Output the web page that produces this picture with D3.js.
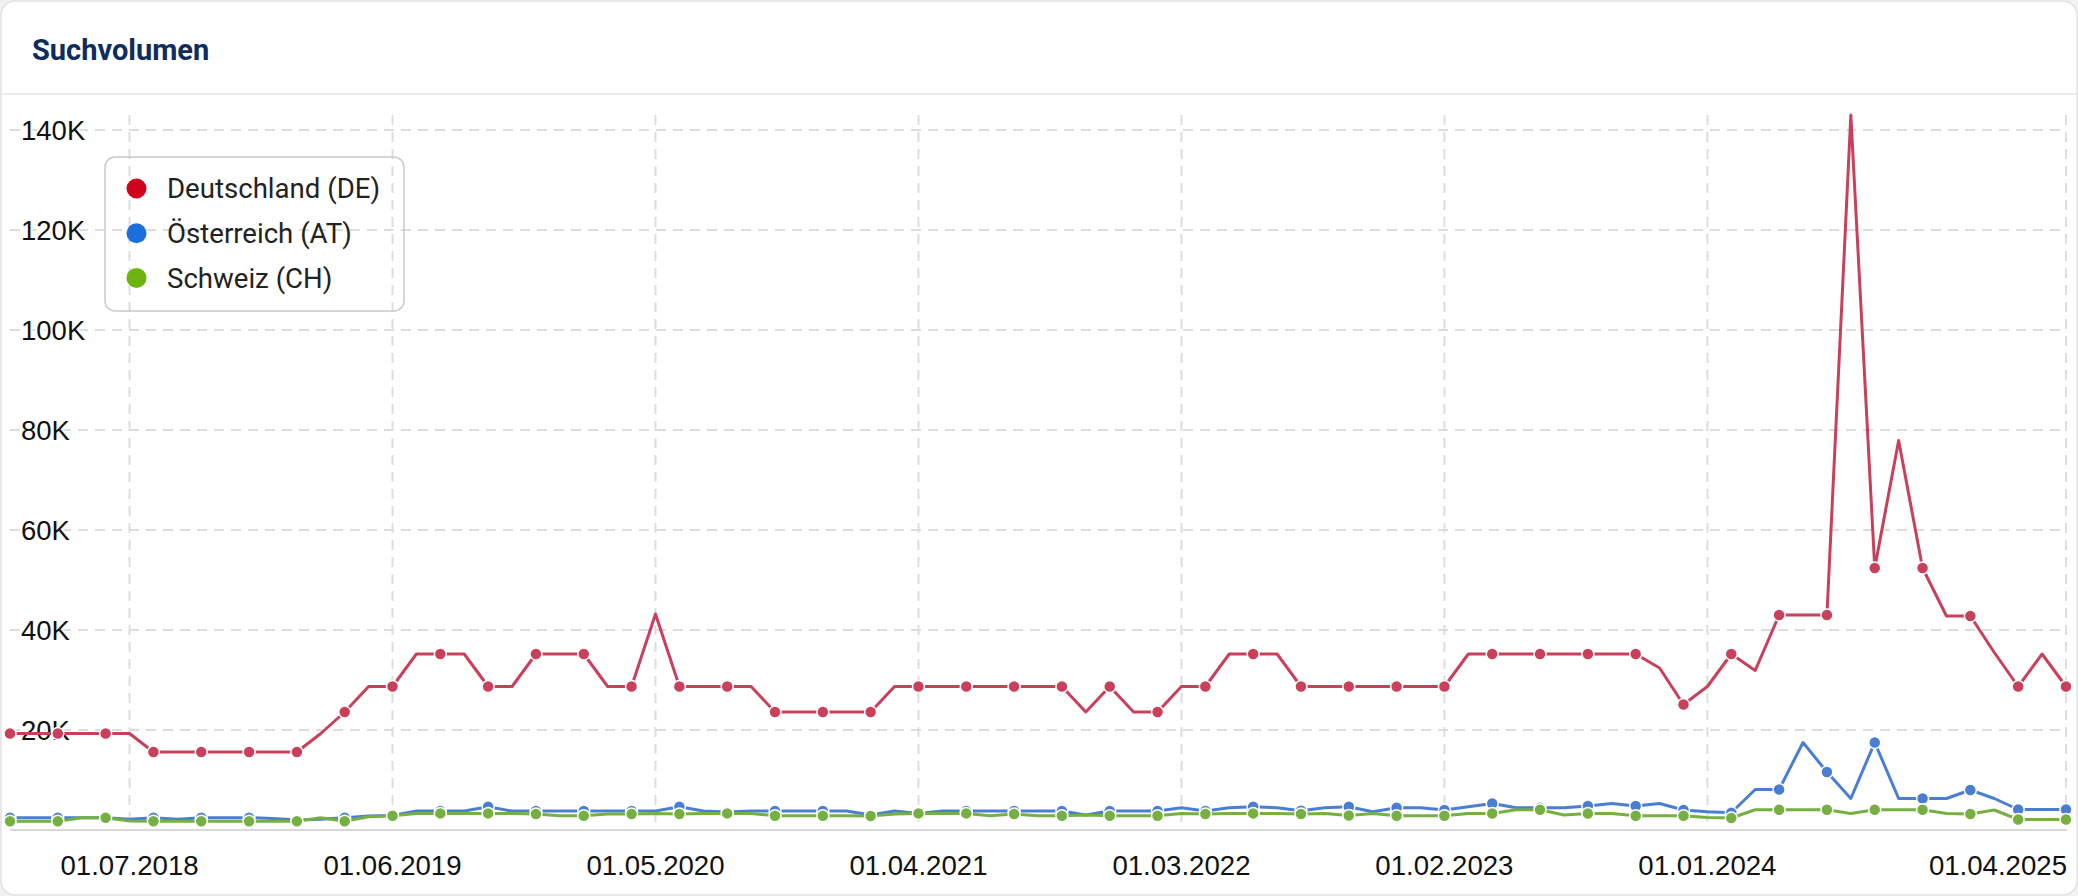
<!DOCTYPE html>
<html><head><meta charset="utf-8">
<script src="https://cdn.jsdelivr.net/npm/d3@7"></script>
<style>
html,body{margin:0;padding:0;background:#f2f2f2;}
svg{display:block;}
</style></head><body>
<svg id="chart" width="2078" height="896"></svg>
<script>
const title = "Suchvolumen";
const seriesNames = ["Deutschland (DE)", "Österreich (AT)", "Schweiz (CH)"];
const lineColors = ["#c8405a", "#4a7ed5", "#76b042"];
const legendColors = ["#d0021b", "#1a6fdc", "#6cb511"];

// monthly categories 01.02.2018 .. 01.04.2025
const months = d3.timeMonth.range(new Date(2018, 1, 1), new Date(2025, 4, 1)).map(d3.timeFormat("%d.%m.%Y"));

const xTickLabels = ["01.07.2018", "01.06.2019", "01.05.2020", "01.04.2021", "01.03.2022", "01.02.2023", "01.01.2024", "01.04.2025"];
const yTicks = [20000, 40000, 60000, 80000, 100000, 120000, 140000];

const valuesDE = [
  19300,19300,19300,19300,19300,19300,15600,15600,15600,15600,15600,15600,15600,19300,23600,28700,28700,35200,35200,35200,
  28700,28700,35200,35200,35200,28700,28700,43200,28700,28700,28700,28700,23600,23600,23600,23600,23600,28700,28700,28700,
  28700,28700,28700,28700,28700,23600,28700,23600,23600,28700,28700,35200,35200,35200,28700,28700,28700,28700,28700,28700,
  28700,35200,35200,35200,35200,35200,35200,35200,35200,32400,25100,28700,35200,31900,43000,43000,43000,143000,52400,77900,
  52400,42800,42800,35500,28700,35200,28700
];
const valuesAT = [
  2460,2460,2460,2460,2460,2130,2460,2130,2460,2460,2460,2300,2000,2130,2460,2800,2920,3790,3790,3790,
  4650,3790,3790,3790,3790,3790,3790,3790,4650,3790,3600,3790,3790,3790,3790,3790,3000,3790,3300,3790,
  3790,3790,3790,3790,3790,3000,3790,3790,3790,4450,3790,4450,4650,4450,3850,4450,4650,3650,4450,4450,
  4000,4650,5300,4450,4450,4450,4800,5300,4800,5300,4000,3650,3450,8100,8100,17500,11600,6300,17500,6300,
  6300,6300,8000,6300,4100,4100,4100
];
const valuesCH = [
  1750,1750,1750,2460,2460,1800,1750,1750,1750,1750,1750,1750,1750,2460,1750,2660,2860,3320,3320,3320,
  3320,3320,3200,2860,2860,3200,3200,3320,3200,3320,3320,3320,2860,2860,2860,2860,2800,3200,3320,3320,
  3320,2860,3200,2860,2860,3000,2860,2860,2860,3320,3200,3320,3320,3320,3200,3320,2900,3300,2850,2850,
  2850,3300,3300,4050,4050,3000,3300,3300,2850,2850,2850,2500,2400,4050,4050,4050,4050,3300,4050,4050,
  4050,3300,3200,4000,2100,2100,2100
];
const allSeries = [valuesDE, valuesAT, valuesCH];

const W = 2078, H = 896;
const plot = {left: 10, right: 2066, top: 115, bottom: 830};
const svg = d3.select("#chart");
const axisFont = "'Liberation Sans', Arial, Helvetica, sans-serif";

// card
svg.append("rect").attr("x", 1).attr("y", 1).attr("width", W - 2).attr("height", H - 2)
  .attr("rx", 14).attr("fill", "#fff").attr("stroke", "#e2e2e2").attr("stroke-width", 1.5);
svg.append("line").attr("x1", 1).attr("x2", W - 1).attr("y1", 94).attr("y2", 94)
  .attr("stroke", "#ebebeb").attr("stroke-width", 2);
svg.append("text").attr("x", 32).attr("y", 60).text(title)
  .attr("font-family", "Roboto, sans-serif").attr("font-weight", 700).attr("font-size", 29)
  .attr("fill", "#0e2c5c");

const x = d3.scalePoint().domain(months).range([plot.left, plot.right]);
const y = d3.scaleLinear().domain([0, d3.max(valuesDE)]).range([plot.bottom, plot.top]);

// grid
const grid = svg.append("g");
grid.selectAll("line.h").data(yTicks).join("line")
  .attr("x1", plot.left).attr("x2", plot.right)
  .attr("y1", d => y(d)).attr("y2", d => y(d))
  .attr("stroke", "#dddddd").attr("stroke-width", 2).attr("stroke-dasharray", "10,7");
grid.selectAll("line.v").data(xTickLabels).join("line")
  .attr("x1", d => x(d)).attr("x2", d => x(d))
  .attr("y1", plot.top).attr("y2", plot.bottom)
  .attr("stroke", "#dddddd").attr("stroke-width", 2).attr("stroke-dasharray", "10,7");
svg.append("line").attr("x1", plot.left).attr("x2", plot.right + 1)
  .attr("y1", plot.bottom).attr("y2", plot.bottom)
  .attr("stroke", "#d8d8d8").attr("stroke-width", 2);

// y labels (left aligned, drawn over the grid)
svg.append("g").selectAll("text").data(yTicks).join("text")
  .attr("x", 21).attr("y", d => y(d)).attr("dy", "0.36em")
  .attr("text-anchor", "start")
  .attr("font-family", axisFont).attr("font-size", 27.5)
  .attr("fill", "#111")
  .attr("stroke", "#fff").attr("stroke-width", 4).attr("paint-order", "stroke")
  .text(d => (d / 1000) + "K");

// x labels
svg.append("g").selectAll("text").data(xTickLabels).join("text")
  .attr("x", (d, i) => i === xTickLabels.length - 1 ? x(d) + 1 : x(d))
  .attr("y", 874.5)
  .attr("text-anchor", (d, i) => i === xTickLabels.length - 1 ? "end" : "middle")
  .attr("font-family", axisFont).attr("font-size", 27.6)
  .attr("fill", "#111")
  .text(d => d);

// series
const line = d3.line().x((d, i) => x(months[i])).y(d => y(d));
allSeries.forEach((vals, s) => {
  const g = svg.append("g");
  g.append("path").attr("d", line(vals)).attr("fill", "none")
    .attr("stroke", lineColors[s]).attr("stroke-width", 3).attr("stroke-linejoin", "round");
  g.selectAll("circle").data(vals.map((v, i) => ({v, i})).filter(d => d.i % 2 === 0)).join("circle")
    .attr("cx", d => x(months[d.i])).attr("cy", d => y(d.v)).attr("r", 6)
    .attr("fill", lineColors[s]).attr("stroke", "#fff").attr("stroke-width", 1.5);
});

// legend
const lg = svg.append("g");
lg.append("rect").attr("x", 105).attr("y", 157).attr("width", 299).attr("height", 154).attr("rx", 10)
  .attr("fill", "none").attr("stroke", "#c9c9c9").attr("stroke-width", 1.5);
seriesNames.forEach((name, i) => {
  const cy = 188.5 + i * 44.7;
  lg.append("circle").attr("cx", 136.5).attr("cy", cy).attr("r", 10).attr("fill", legendColors[i]);
  lg.append("text").attr("x", 167).attr("y", cy).attr("dy", "0.36em")
    .attr("font-family", "Roboto, sans-serif").attr("font-size", 27.6).attr("fill", "#222").text(name);
});
</script>
</body></html>
